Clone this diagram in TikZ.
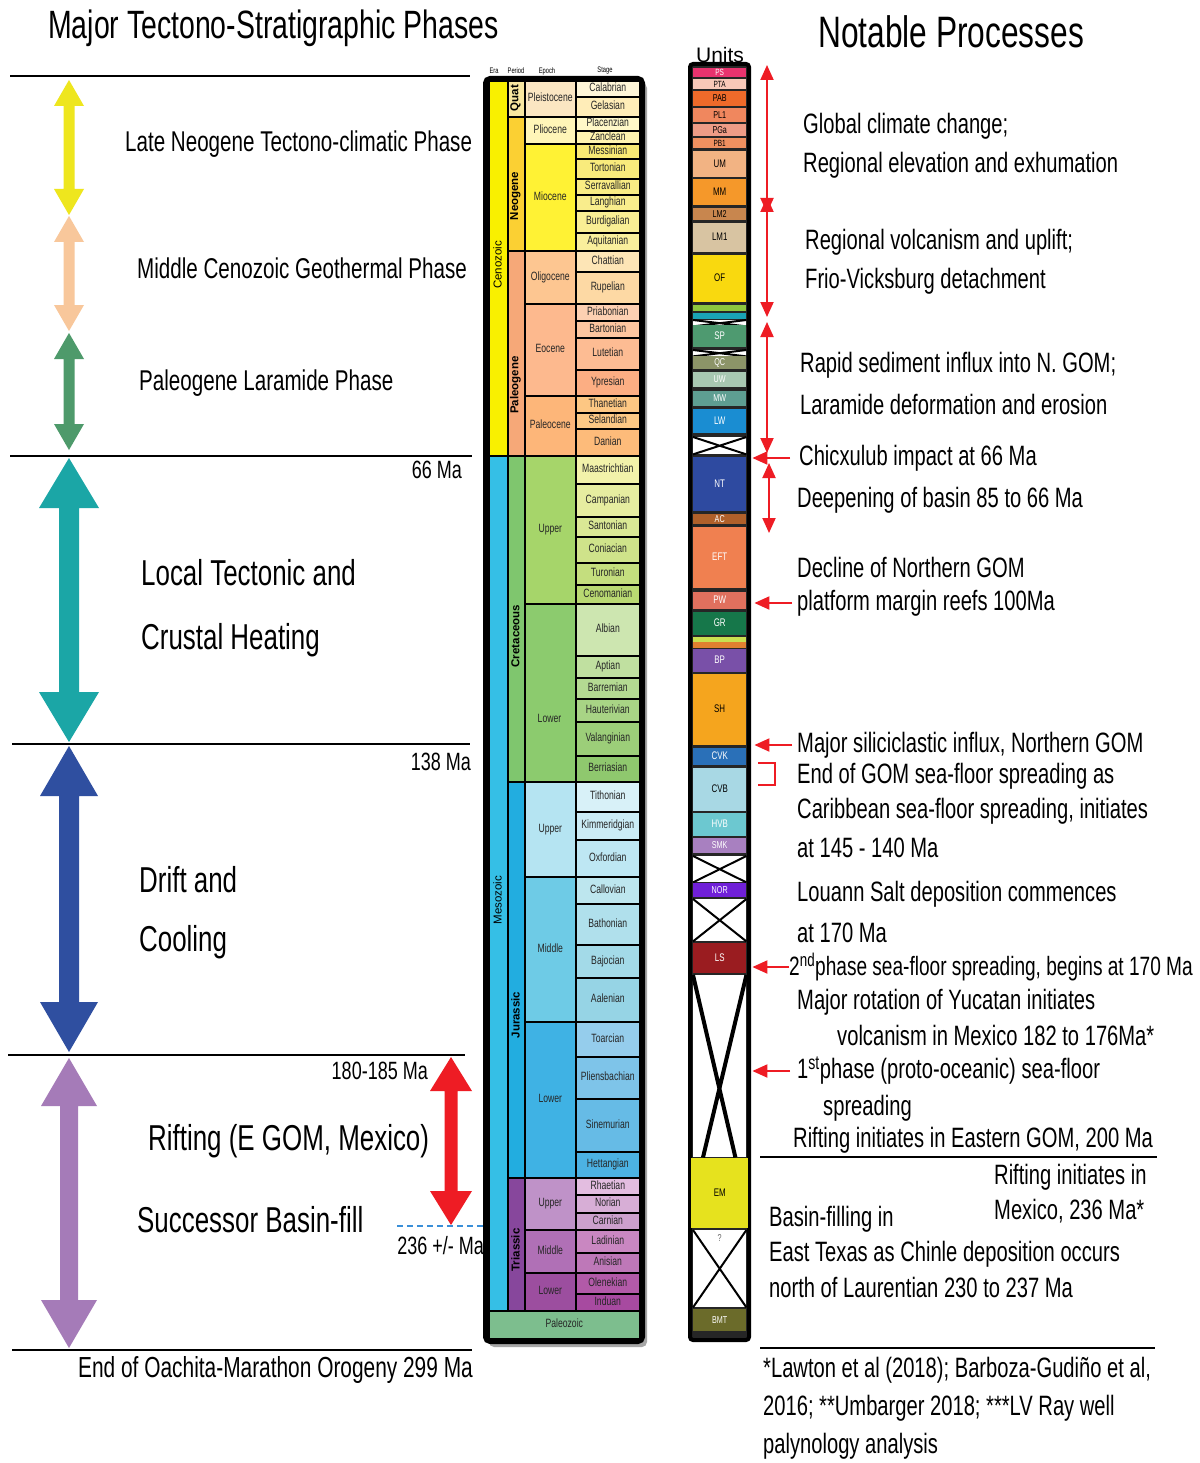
\documentclass[tikz,border=0pt]{standalone}
\usepackage{fontspec}
\setmainfont{Liberation Sans}[FakeStretch=0.72]
\newfontfamily\plainsans{Liberation Sans}
\usetikzlibrary{arrows.meta}
\newcommand{\cellbox}[7]{\definecolor{tmpc}{HTML}{#6}\node[cellst, fill=tmpc, anchor=north west, minimum width={(#4-#2)*1pt}, minimum height={(#5-#3)*1pt}] (#1) at (#2,#3) {#7};}
\newcommand{\unitbox}[6]{\definecolor{tmpc}{HTML}{#4}\node[unitst, fill=tmpc, anchor=north west, minimum width=53pt, minimum height={(#3-#2)*1pt}, #6] (#1) at (693,#2) {#5};}
\newcommand{\xunit}[3]{\node[unitst, fill=white, anchor=north west, minimum width=53pt, minimum height={(#3-#2)*1pt}] (#1) at (693,#2) {}; \draw[line width=2pt] (#1.north west) -- (#1.south east) (#1.north east) -- (#1.south west);}
\newcommand{\dblarrow}[7]{\fill[#7] (#1,#2) -- ({#1+#5},{#2+#6}) -- ({#1+#4},{#2+#6}) -- ({#1+#4},{#3-#6}) -- ({#1+#5},{#3-#6}) -- (#1,#3) -- ({#1-#5},{#3-#6}) -- ({#1-#4},{#3-#6}) -- ({#1-#4},{#2+#6}) -- ({#1-#5},{#2+#6}) -- cycle;}
\definecolor{arrred}{HTML}{EE1C24}
\definecolor{ayel}{HTML}{EEE61E}
\definecolor{apeach}{HTML}{F8C79B}
\definecolor{agreen}{HTML}{4E9A6B}
\definecolor{ateal}{HTML}{1BA6A6}
\definecolor{ablue}{HTML}{2F4FA0}
\definecolor{apurp}{HTML}{A57BB8}
\definecolor{dashblue}{HTML}{3A8FD8}
\begin{document}
\begin{tikzpicture}[x=1pt,y=-1pt,
  cellst/.style={draw=black, line width=1.6pt, inner sep=0pt, text=black!85, font=\fontsize{12}{12}\selectfont, text height=7pt, text depth=1.5pt},
  unitst/.style={inner sep=0pt, font=\fontsize{11}{11}\selectfont, text height=6pt, text depth=0pt},
  rt/.style={anchor=west, inner sep=0pt, font=\fontsize{28}{30}\selectfont},
  ph/.style={anchor=west, inner sep=0pt, font=\fontsize{28.6}{30}\selectfont},
  bigph/.style={anchor=west, inner sep=0pt, font=\fontsize{36}{38}\selectfont},
  ttl/.style={anchor=west, inner sep=0pt, font=\fontsize{39.5}{41}\selectfont},
  malab/.style={anchor=east, inner sep=0pt, font=\fontsize{25}{27}\selectfont},
  hdr/.style={inner sep=0pt, font=\fontsize{8}{8}\selectfont},
  rot/.style={rotate=90, inner sep=0pt, font=\plainsans\fontsize{11.5}{12}\selectfont},
  rotb/.style={rotate=90, inner sep=0pt, font=\plainsans\bfseries\fontsize{11.5}{12}\selectfont},
  hline/.style={line width=2pt, black},
  redarr/.style={arrred, line width=2pt, -{Triangle[width=13pt,length=15pt]}},
  reddbl/.style={arrred, line width=2pt, {Triangle[width=13pt,length=15pt]}-{Triangle[width=13pt,length=15pt]}}
]
\useasboundingbox (0,0) rectangle (1199,1463);
\fill[white] (0,0) rectangle (1199,1463);

% titles
\node[ttl] (title1) at (48,28) {Major Tectono-Stratigraphic Phases};
\node[anchor=west, inner sep=0pt, font=\fontsize{44}{46}\selectfont] (title2) at (818,32) {Notable Processes};

% left horizontal lines
\draw[hline] (10,76) -- (470,76);
\draw[hline] (10,456) -- (472,456);
\draw[hline] (12,744) -- (470,744);
\draw[hline] (8,1055) -- (465,1055);
\draw[hline] (12,1350) -- (472,1350);

% left arrows
\dblarrow{69}{80}{215}{5.5}{15}{26}{ayel}
\dblarrow{69}{216}{331}{5.5}{15}{26}{apeach}
\dblarrow{69}{333}{450}{5.5}{15}{26}{agreen}
\dblarrow{69}{458}{742}{10}{30}{50}{ateal}
\dblarrow{69}{746}{1052}{10}{29}{50}{ablue}
\dblarrow{69}{1058}{1348}{9}{28}{48}{apurp}
\dblarrow{451}{1057}{1225}{6.5}{21}{34}{arrred}
\draw[dashblue, line width=1.5pt, dash pattern=on 6pt off 4pt] (397,1226) -- (485,1226);

% left phase texts
\node[ph] (p1) at (125,144) {Late Neogene Tectono-climatic Phase};
\node[ph] (p2) at (137,268) {Middle Cenozoic Geothermal Phase};
\node[ph] (p3) at (139,383) {Paleogene Laramide Phase};
\node[bigph] (p4) at (141,573) {Local Tectonic and};
\node[bigph] (p5) at (141,640) {Crustal Heating};
\node[bigph] (p6) at (139,880) {Drift and};
\node[bigph] (p7) at (139,942) {Cooling};
\node[bigph] (p8) at (148,1141) {Rifting (E GOM, Mexico)};
\node[bigph] (p9) at (137,1220) {Successor Basin-fill};

\node[malab] (m1) at (462,470) {66 Ma};
\node[malab] (m2) at (471,762) {138 Ma};
\node[malab] (m3) at (428,1071) {180-185 Ma};
\node[malab] (m4) at (484,1246) {236 +/- Ma};
\node[anchor=west, inner sep=0pt, font=\fontsize{29}{31}\selectfont] (m5) at (78,1370) {End of Oachita-Marathon Orogeny 299 Ma};

% strat column frame
\fill[black!35, rounded corners=5pt] (489,83) rectangle (647,1347);
\draw[line width=4pt, rounded corners=5pt, fill=black] (485,78) rectangle (643,1342);
\node[hdr] (h1) at (494,71) {Era};
\node[hdr] (h2) at (516,71) {Period};
\node[hdr] (h3) at (547,71) {Epoch};
\node[hdr] (h4) at (605,71) {Stage};

% era
\cellbox{ceno}{488}{80}{507}{455}{F9F000}{}
\cellbox{meso}{488}{455}{507}{1310}{35BFE6}{}
\node[rot] (ceno-l) at (497.5,265) {Cenozoic};
\node[rot] (meso-l) at (497.5,900) {Mesozoic};
% period
\cellbox{quat}{507}{80}{524}{116}{F9E7A0}{}
\cellbox{neog}{507}{116}{524}{250}{FBD033}{}
\cellbox{paleog}{507}{250}{524}{455}{F6A878}{}
\cellbox{creta}{507}{455}{524}{781}{7FC66E}{}
\cellbox{jura}{507}{781}{524}{1177}{22ADE0}{}
\cellbox{tria}{507}{1177}{524}{1310}{87479C}{}
\node[rotb] (quat-l) at (515.5,98) {Quat};
\node[rotb] (neog-l) at (515.5,196) {Neogene};
\node[rotb] (paleog-l) at (515.5,385) {Paleogene};
\node[rotb] (creta-l) at (515.5,636) {Cretaceous};
\node[rotb] (jura-l) at (515.5,1015) {Jurassic};
\node[rotb] (tria-l) at (515.5,1250) {Triassic};
% epoch
\cellbox{pleis}{524}{80}{575}{116}{FBE6C2}{Pleistocene}
\cellbox{plio}{524}{116}{575}{143}{FFF5B8}{Pliocene}
\cellbox{mio}{524}{143}{575}{250}{FFF234}{Miocene}
\cellbox{oligo}{524}{250}{575}{303}{FDC691}{Oligocene}
\cellbox{eoc}{524}{303}{575}{395}{FDB98E}{Eocene}
\cellbox{paleoc}{524}{395}{575}{455}{FDB679}{Paleocene}
\cellbox{ucret}{524}{455}{575}{603}{A6D56A}{Upper}
\cellbox{lcret}{524}{603}{575}{781}{8CCB6E}{}
\node[inner sep=0pt, text=black!85, font=\fontsize{12}{12}\selectfont] (lcret-l) at (549.5,718) {Lower};
\cellbox{ujur}{524}{781}{575}{876}{B5E4F2}{Upper}
\cellbox{mjur}{524}{876}{575}{1021}{6ECBE6}{Middle}
\cellbox{ljur}{524}{1021}{575}{1177}{3FB2E4}{Lower}
\cellbox{utri}{524}{1177}{575}{1229}{BF92C8}{Upper}
\cellbox{mtri}{524}{1229}{575}{1272}{B070B6}{Middle}
\cellbox{ltri}{524}{1272}{575}{1310}{9C4E9F}{Lower}
% stages
\cellbox{s1}{575}{80}{639}{96.5}{FFF6D8}{Calabrian}
\cellbox{s2}{575}{96.5}{639}{116}{FFEDB8}{Gelasian}
\cellbox{s3}{575}{116}{639}{130}{FFF8C8}{Placenzian}
\cellbox{s4}{575}{130}{639}{143}{FFF4B0}{Zanclean}
\cellbox{s5}{575}{143}{639}{158}{F9EA74}{Messinian}
\cellbox{s6}{575}{158}{639}{178}{F9EB7C}{Tortonian}
\cellbox{s7}{575}{178}{639}{194}{F9EC84}{Serravallian}
\cellbox{s8}{575}{194}{639}{210}{F9ED8C}{Langhian}
\cellbox{s9}{575}{210}{639}{232}{F9EE94}{Burdigalian}
\cellbox{s10}{575}{232}{639}{250}{F9EF9C}{Aquitanian}
\cellbox{s11}{575}{250}{639}{271}{FDE5B6}{Chattian}
\cellbox{s12}{575}{271}{639}{303}{FDD9A4}{Rupelian}
\cellbox{s13}{575}{303}{639}{320}{FDD0B2}{Priabonian}
\cellbox{s14}{575}{320}{639}{337}{FDC6A0}{Bartonian}
\cellbox{s15}{575}{337}{639}{369}{FDBC93}{Lutetian}
\cellbox{s16}{575}{369}{639}{395}{FCAE83}{Ypresian}
\cellbox{s17}{575}{395}{639}{412}{FDC783}{Thanetian}
\cellbox{s18}{575}{412}{639}{428}{FDC985}{Selandian}
\cellbox{s19}{575}{428}{639}{455}{FDBB7A}{Danian}
\cellbox{s20}{575}{455}{639}{483}{F2F2AA}{Maastrichtian}
\cellbox{s21}{575}{483}{639}{516}{E6EDA0}{Campanian}
\cellbox{s22}{575}{516}{639}{536}{DAE895}{Santonian}
\cellbox{s23}{575}{536}{639}{562}{CFE38A}{Coniacian}
\cellbox{s24}{575}{562}{639}{584}{C4DE7E}{Turonian}
\cellbox{s25}{575}{584}{639}{603}{B9D972}{Cenomanian}
\cellbox{s26}{575}{603}{639}{655}{CDE6B0}{Albian}
\cellbox{s27}{575}{655}{639}{677}{C0E0A0}{Aptian}
\cellbox{s28}{575}{677}{639}{698}{B4DA92}{Barremian}
\cellbox{s29}{575}{698}{639}{721}{A8D485}{Hauterivian}
\cellbox{s30}{575}{721}{639}{755}{9CCE79}{Valanginian}
\cellbox{s31}{575}{755}{639}{781}{8FC86E}{Berriasian}
\cellbox{s32}{575}{781}{639}{811}{D8F1F8}{Tithonian}
\cellbox{s33}{575}{811}{639}{839}{CBECF6}{Kimmeridgian}
\cellbox{s34}{575}{839}{639}{876}{BEE7F3}{Oxfordian}
\cellbox{s35}{575}{876}{639}{903}{BDE6EE}{Callovian}
\cellbox{s36}{575}{903}{639}{944}{B0E0EC}{Bathonian}
\cellbox{s37}{575}{944}{639}{977}{A3DAE8}{Bajocian}
\cellbox{s38}{575}{977}{639}{1021}{96D4E5}{Aalenian}
\cellbox{s39}{575}{1021}{639}{1056}{95CDEC}{Toarcian}
\cellbox{s40}{575}{1056}{639}{1098}{7EC4E9}{Pliensbachian}
\cellbox{s41}{575}{1098}{639}{1151}{66BBE6}{Sinemurian}
\cellbox{s42}{575}{1151}{639}{1177}{4CB2E3}{Hettangian}
\cellbox{s43}{575}{1177}{639}{1194}{E3BDE0}{Rhaetian}
\cellbox{s44}{575}{1194}{639}{1212}{D7AED6}{Norian}
\cellbox{s45}{575}{1212}{639}{1229}{CCA0CD}{Carnian}
\cellbox{s46}{575}{1229}{639}{1252}{C987C1}{Ladinian}
\cellbox{s47}{575}{1252}{639}{1272}{BE78B8}{Anisian}
\cellbox{s48}{575}{1272}{639}{1293}{B25AA8}{Olenekian}
\cellbox{s49}{575}{1293}{639}{1310}{A74AA0}{Induan}
\cellbox{paleoz}{488}{1310}{639}{1338}{7DBE8E}{Paleozoic}

% units column
\node[inner sep=0pt, font=\plainsans\fontsize{21}{22}\selectfont] (unitsl) at (720,55) {Units};
\draw[line width=4pt, rounded corners=3pt, fill=black!85] (690,64) rectangle (749,1340);
\unitbox{PS}{68}{77}{E8336E}{PS}{text=white, font=\fontsize{9}{9}\selectfont}
\unitbox{PTA}{79}{89}{F8C8B8}{PTA}{font=\fontsize{9}{9}\selectfont}
\unitbox{PAB}{91}{106}{EE6A2A}{PAB}{font=\fontsize{10}{10}\selectfont}
\unitbox{PL1}{108}{122}{F0875E}{PL1}{font=\fontsize{10}{10}\selectfont}
\unitbox{PGa}{124}{136}{EE9C86}{PGa}{font=\fontsize{10}{10}\selectfont}
\unitbox{PB1}{138}{148}{F09060}{PB1}{font=\fontsize{9}{9}\selectfont}
\unitbox{UM}{151}{177}{F2B383}{UM}{}
\unitbox{MM}{179}{205}{F5982A}{MM}{}
\unitbox{LM2}{208}{220}{C8864E}{LM2}{font=\fontsize{10}{10}\selectfont}
\unitbox{LM1}{223}{252}{D8C4A2}{LM1}{}
\unitbox{OF}{255}{302}{F9D90F}{OF}{}
\unitbox{JS}{305}{310}{8DC63F}{}{}
\unitbox{VC}{313}{318}{1AA3B5}{}{}
\xunit{X1}{320}{324}
\unitbox{SP}{325}{347}{4E9A70}{SP}{text=white}
\xunit{X2}{350}{354}
\unitbox{QC}{356}{369}{8C9468}{QC}{text=white, font=\fontsize{10}{10}\selectfont}
\unitbox{UW}{372}{387}{A8C8B2}{UW}{text=white, font=\fontsize{10}{10}\selectfont}
\unitbox{MW}{391}{406}{5E9E92}{MW}{text=white, font=\fontsize{10}{10}\selectfont}
\unitbox{LW}{409}{433}{1A8DD2}{LW}{text=white}
\xunit{X3}{437}{454}
\unitbox{NT}{457}{511}{2E4AA0}{NT}{text=white}
\unitbox{AC}{514}{524}{B0602A}{AC}{text=white, font=\fontsize{10}{10}\selectfont}
\unitbox{EFT}{527}{588}{F08050}{EFT}{text=white}
\unitbox{PW}{592}{609}{E0705E}{PW}{text=white}
\unitbox{GR}{612}{635}{16774A}{GR}{text=white}
\unitbox{T1}{637}{640}{C8E050}{}{}
\unitbox{T2}{642}{647}{E08030}{}{}
\unitbox{BP}{649}{672}{7950A8}{BP}{text=white}
\unitbox{SH}{674}{745}{F5A51E}{SH}{}
\unitbox{CVK}{748}{765}{2A70B8}{CVK}{text=white}
\unitbox{CVB}{768}{811}{A8D8E4}{CVB}{}
\unitbox{HVB}{813}{836}{6CC8D0}{HVB}{text=white}
\unitbox{SMK}{838}{853}{A880C0}{SMK}{text=white, font=\fontsize{10}{10}\selectfont}
\xunit{X4}{856}{882}
\unitbox{NOR}{883}{897}{7020D8}{NOR}{text=white, font=\fontsize{10}{10}\selectfont}
\xunit{X5}{899}{941}
\unitbox{LS}{943}{973}{9A1C20}{LS}{text=white}
\node[unitst, fill=white, anchor=north west, minimum width=53pt, minimum height=182pt] (BX) at (693,975) {};
\draw[line width=4pt] (BX.north west) -- ([xshift=-11pt]BX.south east) (BX.north east) -- ([xshift=10pt]BX.south west);
\definecolor{emc}{HTML}{E6E21E}
\node[unitst, fill=emc, anchor=north west, minimum width=57pt, minimum height=70pt] (EM) at (691,1158) {EM};
\xunit{X6}{1230}{1307}
\node[inner sep=0pt, text=black!60, font=\fontsize{10}{10}\selectfont] (qm) at (719.5,1238) {?};
\unitbox{BMT}{1309}{1331}{6B6B2A}{BMT}{text=white, font=\fontsize{10}{10}\selectfont}

% right texts
\node[rt] (t1) at (803,126) {Global climate change;};
\node[rt] (t2) at (803,165) {Regional elevation and exhumation};
\node[rt] (t3) at (805,242) {Regional volcanism and uplift;};
\node[rt] (t4) at (805,281) {Frio-Vicksburg detachment};
\node[rt] (t5) at (800,365) {Rapid sediment influx into N. GOM;};
\node[rt] (t6) at (800,404) {Laramide deformation and erosion};
\node[rt] (t7) at (799,458) {Chicxulub impact at 66 Ma};
\node[rt] (t8) at (797,500) {Deepening of basin 85 to 66 Ma};
\node[rt] (t9) at (797,567) {Decline of Northern GOM};
\node[rt] (t10) at (797,603) {platform margin reefs 100Ma};
\node[rt] (t11) at (797,745) {Major siliciclastic influx, Northern GOM};
\node[rt] (t12) at (797,776) {End of GOM sea-floor spreading as};
\node[rt] (t13) at (797,811) {Caribbean sea-floor spreading, initiates};
\node[rt] (t14) at (797,848) {at 145 - 140 Ma};
\node[rt] (t15) at (797,894) {Louann Salt deposition commences};
\node[rt] (t16) at (797,933) {at 170 Ma};
\node[rt, font=\fontsize{26.5}{28}\selectfont] (t17) at (789,967) {2\textsuperscript{nd}phase sea-floor spreading, begins at 170 Ma};
\node[rt] (t18) at (797,1002) {Major rotation of Yucatan initiates};
\node[rt] (t19) at (837,1035) {volcanism in Mexico 182 to 176Ma*};
\node[rt] (t20) at (797,1071) {1\textsuperscript{st}phase (proto-oceanic) sea-floor};
\node[rt] (t21) at (823,1108) {spreading};
\node[rt] (t22) at (793,1140) {Rifting initiates in Eastern GOM, 200 Ma};
\node[rt] (t23) at (994,1177) {Rifting initiates in};
\node[rt] (t24) at (994,1211) {Mexico, 236 Ma*};
\node[rt] (t25) at (769,1219) {Basin-filling in};
\node[rt] (t26) at (769,1254) {East Texas as Chinle deposition occurs};
\node[rt] (t27) at (769,1287) {north of Laurentian 230 to 237 Ma};
\node[rt] (t28) at (763,1370) {*Lawton et al (2018); Barboza-Gudiño et al,};
\node[rt] (t29) at (763,1408) {2016; **Umbarger 2018; ***LV Ray well};
\node[rt] (t30) at (763,1446) {palynology analysis};
\draw[hline] (760,1157) -- (1157,1157);
\draw[hline] (760,1348) -- (1155,1348);

% red arrows
\coordinate (v1a) at (767,65); \coordinate (v1b) at (767,213);
\coordinate (v2a) at (767,197); \coordinate (v2b) at (767,317);
\coordinate (v3a) at (767,322); \coordinate (v3b) at (767,453);
\coordinate (v4a) at (769,463); \coordinate (v4b) at (769,533);
\draw[reddbl] (v1a) -- (v1b);
\draw[reddbl] (v2a) -- (v2b);
\draw[reddbl] (v3a) -- (v3b);
\draw[reddbl] (v4a) -- (v4b);
\draw[redarr] ([xshift=-9pt]t7.west) -- ([xshift=6pt]t7.west -| NT.east);
\draw[redarr] ([xshift=-5pt]t10.west) -- ([xshift=8pt]t10.west -| PW.east);
\draw[redarr] ([xshift=-5pt]t11.west) -- ([xshift=8pt]t11.west -| SH.east);
\draw[redarr] (t17.west) -- ([xshift=6pt]t17.west -| LS.east);
\draw[redarr] ([xshift=-7pt]t20.west) -- ([xshift=6pt]t20.west -| BX.east);
\coordinate (br1) at (758,763); \coordinate (br2) at (775,763);
\coordinate (br3) at (775,785); \coordinate (br4) at (758,785);
\draw[arrred, line width=2pt] (br1) -- (br2) -- (br3) -- (br4);
\end{tikzpicture}
\end{document}
